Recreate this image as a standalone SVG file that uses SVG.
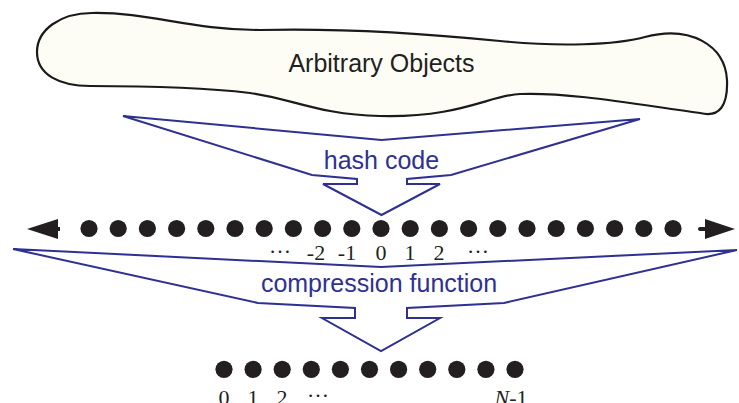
<svg xmlns="http://www.w3.org/2000/svg" width="739" height="403" viewBox="0 0 739 403">
<style>
.blob{fill:#fdfdf5;stroke:#1a1a1a;stroke-width:2.2}
.barrow{fill:none;stroke:#2e3192;stroke-width:2;stroke-linejoin:miter}
.sans{font-family:"Liberation Sans",Arial,sans-serif;font-size:25px;text-anchor:middle}
.blue{fill:#2e3192}
.dk{fill:#231f20}
.num{font-family:"Liberation Serif","Times New Roman",serif;font-size:22px;fill:#231f20;text-anchor:middle}
</style>
<defs>
<circle id="dot" r="8.6" fill="#231f20"/>
</defs>
<rect width="739" height="403" fill="#ffffff"/>
<g id="arbitrary-objects">
<path class="blob" d="M92,13 C150,12 190,30 260,30 C340,28 420,33 500,41 C560,47 615,45 645,37 C690,25 725,45 727,80 C728,105 720,118 700,113 C640,105 570,92 520,94 C490,95 460,118 380,116 C320,115 290,98 250,93 C200,87 140,86 90,86 C60,86 37,75 37,52 C37,30 60,13 92,13 Z"/>
<text class="sans dk" x="381.5" y="72">Arbitrary Objects</text>
</g>
<g id="connectors">
<g id="hash-code-arrow">
<path class="barrow" d="M123,116 L381.5,140 L640,119 L451,175 L407,179 L407,184 L440,184 L381.5,215 L323,184 L357,184 L357,179 L312,175 Z"/>
<text class="sans blue" x="381.5" y="169">hash code</text>
</g>
<g id="compression-arrow">
<path class="barrow" d="M13,249 L381,267 L737,250 L504,303 L407,308 L407,318 L440,318 L381,351 L322,318 L355,318 L355,308 L258,303 Z"/>
<text class="sans blue" x="379" y="292">compression function</text>
</g>
</g>
<g id="integer-line">
<polygon points="27,229 58,219 58,239" fill="#231f20"/>
<line x1="57" y1="229" x2="60" y2="229" stroke="#231f20" stroke-width="4"/>
<polygon points="735,229 705,219 705,239" fill="#231f20"/>
<line x1="700" y1="229" x2="706" y2="229" stroke="#231f20" stroke-width="4" stroke-linecap="round"/>
<use href="#dot" x="89" y="228.5"/>
<use href="#dot" x="118.2" y="228.5"/>
<use href="#dot" x="147.4" y="228.5"/>
<use href="#dot" x="176.6" y="228.5"/>
<use href="#dot" x="205.8" y="228.5"/>
<use href="#dot" x="235" y="228.5"/>
<use href="#dot" x="264.2" y="228.5"/>
<use href="#dot" x="293.4" y="228.5"/>
<use href="#dot" x="322.6" y="228.5"/>
<use href="#dot" x="351.8" y="228.5"/>
<use href="#dot" x="381" y="228.5"/>
<use href="#dot" x="410.2" y="228.5"/>
<use href="#dot" x="439.4" y="228.5"/>
<use href="#dot" x="468.6" y="228.5"/>
<use href="#dot" x="497.8" y="228.5"/>
<use href="#dot" x="527" y="228.5"/>
<use href="#dot" x="556.2" y="228.5"/>
<use href="#dot" x="585.4" y="228.5"/>
<use href="#dot" x="614.6" y="228.5"/>
<use href="#dot" x="643.8" y="228.5"/>
<use href="#dot" x="673" y="228.5"/>
<text class="num" x="280" y="253">…</text>
<text class="num" x="316" y="260">-2</text>
<text class="num" x="347" y="260">-1</text>
<text class="num" x="381" y="260">0</text>
<text class="num" x="410" y="260">1</text>
<text class="num" x="439" y="260">2</text>
<text class="num" x="478" y="253">…</text>
</g>
<g id="bucket-array">
<use href="#dot" x="224" y="369.3"/>
<use href="#dot" x="253.1" y="369.3"/>
<use href="#dot" x="282.2" y="369.3"/>
<use href="#dot" x="311.3" y="369.3"/>
<use href="#dot" x="340.4" y="369.3"/>
<use href="#dot" x="369.5" y="369.3"/>
<use href="#dot" x="398.6" y="369.3"/>
<use href="#dot" x="427.7" y="369.3"/>
<use href="#dot" x="456.8" y="369.3"/>
<use href="#dot" x="485.9" y="369.3"/>
<use href="#dot" x="515" y="369.3"/>
<text class="num" x="224" y="405">0</text>
<text class="num" x="253" y="405">1</text>
<text class="num" x="282" y="405">2</text>
<text class="num" x="318" y="397">…</text>
<text class="num" x="511" y="405"><tspan font-style="italic">N</tspan>-1</text>
</g>
</svg>
